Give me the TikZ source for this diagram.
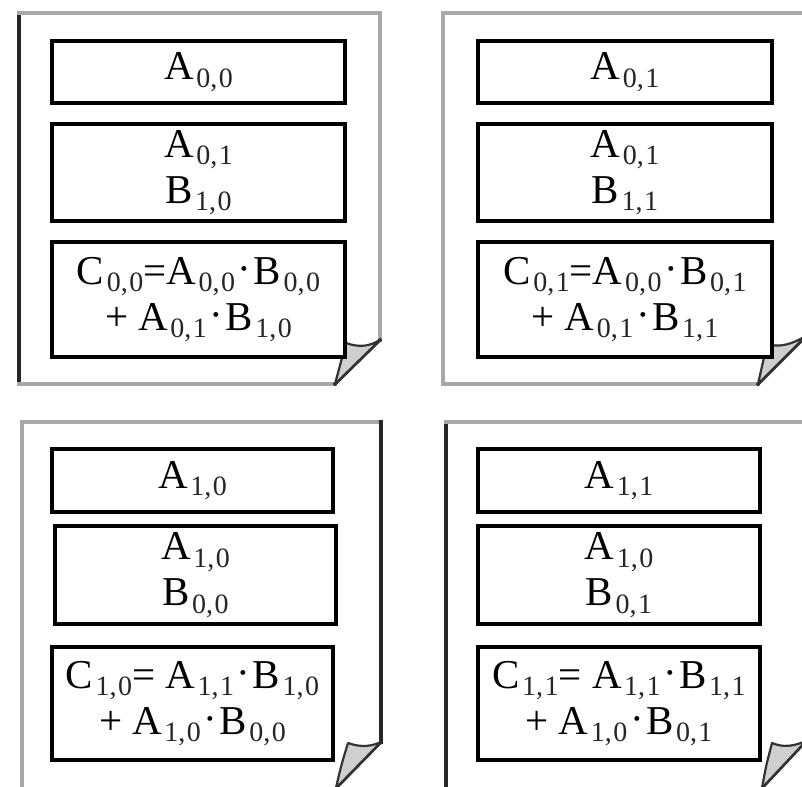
\documentclass[tikz,border=0pt]{standalone}
\usepackage{fontspec}
\setmainfont{Liberation Serif}
\newcommand{\subs}[2]{\kern2.5pt\raisebox{-7.5pt}{\fontsize{28}{28}\selectfont\color{black!85}#1,\kern1.5pt#2}}
\newcommand{\dotp}{\kern2.5pt\raisebox{2pt}{·}\kern2.5pt}
\definecolor{pagegray}{HTML}{A8A8A8}
\definecolor{flapgray}{HTML}{CFCFCF}
\tikzset{
  cell/.style={draw=black, line width=3.2pt, fill=white, inner sep=0pt, align=center,
    font=\fontsize{41}{46}\selectfont},
  darkedge/.style={draw=black!85, line width=3.2pt, line cap=rect},
  grayedge/.style={draw=pagegray, line width=3.4pt, line cap=rect},
  flap/.style={fill=flapgray, draw=black!80, line width=2.2pt, line join=round}
}
\begin{document}
\begin{tikzpicture}[x=1pt,y=-1pt]
\useasboundingbox (0,0) rectangle (802,786);
\begin{scope}
\clip (0,0) rectangle (802,786);
% ---------- top-left page
\coordinate (tlA) at (19,13);
\draw[darkedge] (19,384) -- (tlA);
\draw[grayedge] (tlA) -- (380,13) -- (380,340);
\draw[grayedge] (19,384) -- (335,384);
\draw[darkedge] (380,340) -- (335,384);
\filldraw[flap] (335,384) .. controls (340,364) .. (346,343) .. controls (360,348) and (370,346) .. (380,340) -- cycle;
% ---------- top-right page
\draw[grayedge] (443,384) -- (443,13) -- (806,13);
\draw[grayedge] (443,384) -- (758,384);
\draw[darkedge] (806,336) -- (758,384);
\filldraw[flap] (758,384) .. controls (762,364) .. (767,344) .. controls (780,348) and (792,344) .. (806,336) -- cycle;
% ---------- bottom-left page
\draw[grayedge] (22,790) -- (22,422) -- (381,422);
\draw[darkedge] (381,422) -- (381,742);
\draw[darkedge] (381,742) -- (334,790);
\filldraw[flap] (336,788) .. controls (341,766) .. (348,743) .. controls (362,748) and (372,746) .. (381,742) -- cycle;
% ---------- bottom-right page
\draw[darkedge] (446,790) -- (446,422);
\draw[grayedge] (446,422) -- (806,422);
\draw[darkedge] (806,741) -- (760,790);
\filldraw[flap] (762,788) .. controls (766,766) .. (772,743) .. controls (784,748) and (794,746) .. (806,741) -- cycle;
\end{scope}
% ---------- cells: top-left
\node[cell, minimum width=293pt, minimum height=62pt] (tl1) at (198.5,72) {A\subs00};
\node[cell, minimum width=293pt, minimum height=97pt] (tl2) at (198.5,172.5) {A\subs01\\B\subs10};
\node[cell, minimum width=293pt, minimum height=115pt] (tl3) at (198.5,299.5) {C\subs00=A\subs00\dotp B\subs00\\+ A\subs01\dotp B\subs10};
% ---------- cells: top-right
\node[cell, minimum width=294pt, minimum height=62pt] (tr1) at (625,72) {A\subs01};
\node[cell, minimum width=294pt, minimum height=97pt] (tr2) at (625,172.5) {A\subs01\\B\subs11};
\node[cell, minimum width=294pt, minimum height=115pt] (tr3) at (625,299.5) {C\subs01=A\subs00\dotp B\subs01\\+ A\subs01\dotp B\subs11};
% ---------- cells: bottom-left
\node[cell, minimum width=281pt, minimum height=63pt] (bl1) at (192.5,480.5) {A\subs10};
\node[cell, minimum width=281pt, minimum height=98pt] (bl2) at (195.5,575) {A\subs10\\B\subs00};
\node[cell, minimum width=281pt, minimum height=113pt] (bl3) at (192.5,703.5) {C\subs10= A\subs11\dotp B\subs10\\+ A\subs10\dotp B\subs00};
% ---------- cells: bottom-right
\node[cell, minimum width=282pt, minimum height=63pt] (br1) at (619,480.5) {A\subs11};
\node[cell, minimum width=282pt, minimum height=98pt] (br2) at (619,575) {A\subs10\\B\subs01};
\node[cell, minimum width=282pt, minimum height=113pt] (br3) at (619,703.5) {C\subs11= A\subs11\dotp B\subs11\\+ A\subs10\dotp B\subs01};
\end{tikzpicture}
\end{document}
